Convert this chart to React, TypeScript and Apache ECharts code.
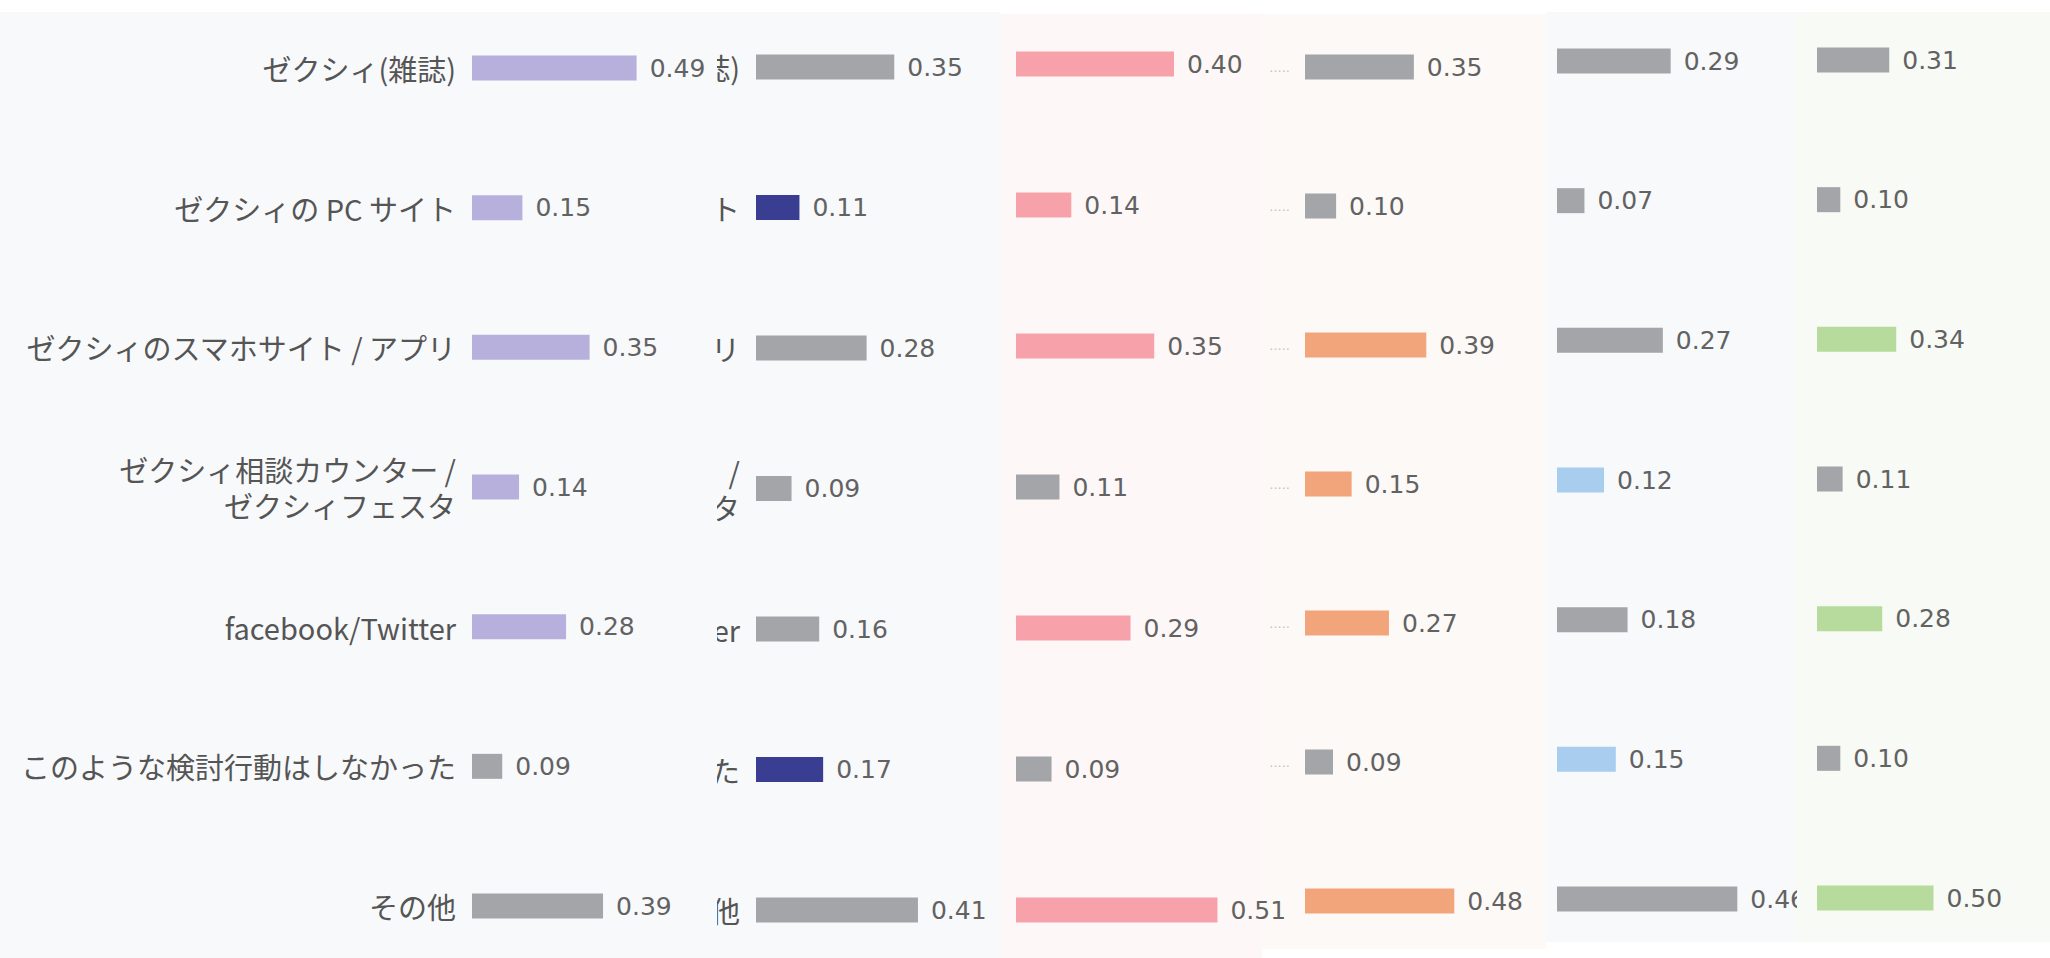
import React, { useEffect, useRef } from "react";
import * as echarts from "echarts";

// ---------- data ----------
const categories = [
  "ゼクシィ(雑誌)",
  "ゼクシィの PC サイト",
  "ゼクシィのスマホサイト / アプリ",
  "ゼクシィ相談カウンター /\nゼクシィフェスタ",
  "facebook/Twitter",
  "このような検討行動はしなかった",
  "その他",
];

const panel1Values = [0.49, 0.15, 0.35, 0.14, 0.28, 0.09, 0.39];
const panel2Values = [0.35, 0.11, 0.28, 0.09, 0.16, 0.17, 0.41];
const panel3Values = [0.4, 0.14, 0.35, 0.11, 0.29, 0.09, 0.51];
const panel4Values = [0.35, 0.1, 0.39, 0.15, 0.27, 0.09, 0.48];
const panel5Values = [0.29, 0.07, 0.27, 0.12, 0.18, 0.15, 0.46];
const panel6Values = [0.31, 0.1, 0.34, 0.11, 0.28, 0.1, 0.5];

const panel1Highlight = [true, true, true, true, true, false, false];
const panel2Highlight = [false, true, false, false, false, true, false];
const panel3Highlight = [true, true, true, false, true, false, true];
const panel4Highlight = [false, false, true, true, true, false, true];
const panel5Highlight = [false, false, false, true, false, true, false];
const panel6Highlight = [false, false, true, false, true, false, true];

const panelValues = [panel1Values, panel2Values, panel3Values, panel4Values, panel5Values, panel6Values];
const panelHighlights = [panel1Highlight, panel2Highlight, panel3Highlight, panel4Highlight, panel5Highlight, panel6Highlight];

// ---------- layout / style ----------
const GRAY = "#a3a5a9";
const LABEL_FONT = 29;
// labelMode: full = whole category, tail = only the part that peeks out, dots = truncated marker, none = hidden
const layouts = [
  { bgX: 0, bgW: 717, bgTop: 12, bgBottom: 958, bg: "#f8f9fb", barStart: 472, unit: 336, c1: 68, c7: 906, accent: "#b8b0dc", labelMode: "full" },
  { bgX: 717, bgW: 283, bgTop: 12, bgBottom: 958, bg: "#f8f9fb", barStart: 756, unit: 395, c1: 67, c7: 910, accent: "#3a3e93", labelMode: "tail" },
  { bgX: 1000, bgW: 262, bgTop: 14, bgBottom: 958, bg: "#fdf8f7", barStart: 1016, unit: 395, c1: 64, c7: 910, accent: "#f7a1ab", labelMode: "none" },
  { bgX: 1262, bgW: 284, bgTop: 14, bgBottom: 949, bg: "#fdf9f7", barStart: 1305, unit: 311, c1: 67, c7: 901, accent: "#f2a57a", labelMode: "dots" },
  { bgX: 1546, bgW: 251, bgTop: 12, bgBottom: 942, bg: "#f7f9fb", barStart: 1557, unit: 392, c1: 61, c7: 899, accent: "#a8cdef", labelMode: "none" },
  { bgX: 1797, bgW: 253, bgTop: 12, bgBottom: 942, bg: "#f8faf6", barStart: 1817, unit: 251, c1: 60, c7: 898, accent: "#b6db9c", labelMode: "none" },
];

// keep the last characters of each line that fit (roughly) in the given width
function tailOf(text: string, px: number) {
  return text
    .split("\n")
    .map((line) => {
      let w = 0;
      let out = "";
      for (let k = line.length - 1; k >= 0; k--) {
        const ch = line[k];
        out = ch + out;
        w += ch.charCodeAt(0) < 256 ? LABEL_FONT * 0.5 : LABEL_FONT;
        if (w >= px) break;
      }
      return out;
    })
    .join("\n");
}

function buildOption() {
  const grid: any[] = [];
  const xAxis: any[] = [];
  const yAxis: any[] = [];
  const series: any[] = [];
  const graphic: any[] = [];

  layouts.forEach((L, i) => {
    const bgZ = 2 * (6 - i) - 1;
    const labelZ = bgZ + 1;
    graphic.push({
      type: "rect",
      z: bgZ,
      shape: { x: L.bgX, y: L.bgTop, width: L.bgW, height: L.bgBottom - L.bgTop },
      style: { fill: L.bg },
      silent: true,
    });
    grid.push({ left: L.barStart, top: L.c1, width: L.unit, height: L.c7 - L.c1, containLabel: false });
    xAxis.push({ type: "value", gridIndex: i, min: 0, max: 1, show: false });

    const textLabel = {
      margin: 16,
      color: "#555555",
      fontSize: LABEL_FONT,
      lineHeight: 36,
      fontFamily: "'Noto Sans CJK JP', 'Noto Sans', sans-serif",
    };
    let axisLabel: any;
    if (L.labelMode === "full") axisLabel = textLabel;
    else if (L.labelMode === "tail") {
      const visible = L.barStart - 16 - L.bgX;
      axisLabel = { ...textLabel, formatter: (v: string) => tailOf(v, visible) };
    } else if (L.labelMode === "dots") {
      axisLabel = {
        formatter: (_v: string, idx: number) => (idx < categories.length - 1 ? "....." : ""),
        color: "#c4c4c4",
        fontSize: 13,
        margin: 15,
        fontFamily: "DejaVu Sans",
      };
    } else axisLabel = { show: false };

    yAxis.push({
      type: "category",
      gridIndex: i,
      inverse: true,
      boundaryGap: false,
      data: categories,
      z: labelZ,
      axisLine: { show: false },
      axisTick: { show: false },
      splitLine: { show: false },
      axisLabel,
    });
    const vals = panelValues[i];
    const hl = panelHighlights[i];
    series.push({
      type: "bar",
      xAxisIndex: i,
      yAxisIndex: i,
      barWidth: 25,
      clip: false,
      z: i === 5 ? 22 : 20,
      data: vals.map((v, j) => ({ value: v, itemStyle: { color: hl[j] ? L.accent : GRAY } })),
      label: {
        show: true,
        position: "right",
        distance: 13,
        formatter: (p: any) => Number(p.value).toFixed(2),
        fontFamily: "'DejaVu Sans', sans-serif",
        fontSize: 25,
        color: "#626262",
      },
    });
  });

  // panel 6 edge covering the overflow of panel 5's last value label
  graphic.push({
    type: "rect",
    z: 21,
    shape: { x: 1797, y: 880, width: 19, height: 50 },
    style: { fill: layouts[5].bg },
    silent: true,
  });

  return {
    animation: false,
    backgroundColor: "#ffffff",
    grid,
    xAxis,
    yAxis,
    series,
    graphic,
  };
}

export default function App() {
  const ref = useRef<HTMLDivElement>(null);
  useEffect(() => {
    if (!ref.current) return;
    const chart = echarts.init(ref.current, undefined, { renderer: "svg" });
    chart.setOption(buildOption() as any);
    return () => chart.dispose();
  }, []);
  return (
    <div
      ref={ref}
      style={{ position: "fixed", left: 0, top: 0, width: 2050, height: 958 }}
    />
  );
}
